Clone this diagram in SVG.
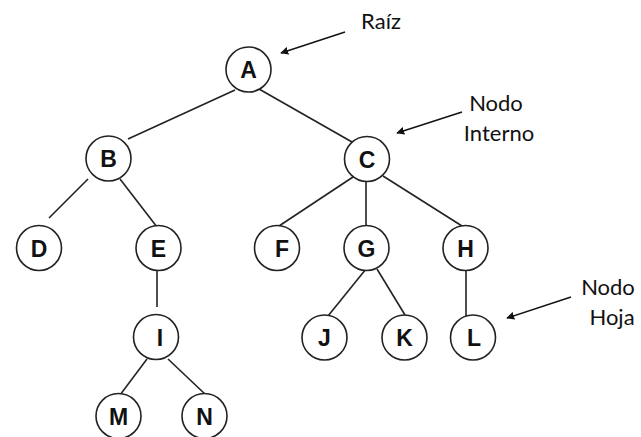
<svg xmlns="http://www.w3.org/2000/svg" width="641" height="437" viewBox="0 0 641 437">
<defs>
<style>
.n circle{fill:#fff;stroke:#222;stroke-width:1.6}
.n text{font-family:"Liberation Sans",Arial,sans-serif;font-weight:bold;font-size:23px;text-anchor:middle;fill:#111}
#edges line{stroke:#222;stroke-width:1.6}
.lbl{font-family:Lato,"Open Sans",sans-serif;font-size:22px;fill:#111;text-anchor:middle}
.arr{stroke:#111;stroke-width:1.4;marker-end:url(#ah)}
</style>
<marker id="ah" viewBox="0 0 10 10" refX="9" refY="5" markerWidth="8" markerHeight="8" markerUnits="userSpaceOnUse" orient="auto">
<path d="M0,0 L10,5 L0,10 z" fill="#111"/>
</marker>
</defs>
<rect width="641" height="437" fill="#fff"/>
<g id="edges">
<line x1="235" y1="90" x2="128" y2="139"/>
<line x1="259" y1="89" x2="352" y2="142"/>
<line x1="88" y1="179" x2="49" y2="218"/>
<line x1="120" y1="179" x2="157" y2="227"/>
<line x1="157" y1="271" x2="157" y2="307"/>
<line x1="353" y1="177" x2="279" y2="226"/>
<line x1="366" y1="181" x2="366" y2="226"/>
<line x1="383" y1="176" x2="462" y2="226"/>
<line x1="366" y1="269" x2="328" y2="316"/>
<line x1="377" y1="269" x2="405" y2="315"/>
<line x1="466" y1="268" x2="466" y2="316"/>
<line x1="147" y1="359" x2="120" y2="395"/>
<line x1="168" y1="359" x2="206" y2="395"/>
</g>
<g id="arrows">
<line class="arr" x1="345" y1="32" x2="281" y2="53"/>
<line class="arr" x1="462" y1="112" x2="397" y2="133"/>
<line class="arr" x1="571" y1="297" x2="507" y2="318"/>
</g>
<g id="labels">
<text class="lbl" x="381" y="29">Raíz</text>
<text class="lbl" x="496" y="111">Nodo</text>
<text class="lbl" x="499" y="141">Interno</text>
<text class="lbl" x="608" y="295">Nodo</text>
<text class="lbl" x="612" y="325">Hoja</text>
</g>
<g id="A" class="n"><circle cx="248.5" cy="69.5" r="22.5"/><text x="248.5" y="78">A</text></g>
<g id="B" class="n"><circle cx="108.5" cy="158.5" r="22.5"/><text x="108.5" y="167">B</text></g>
<g id="C" class="n"><circle cx="367" cy="159" r="22.5"/><text x="367" y="167.5">C</text></g>
<g id="D" class="n"><circle cx="39" cy="248" r="22.5"/><text x="39" y="256.5">D</text></g>
<g id="E" class="n"><circle cx="158.5" cy="248" r="22.5"/><text x="158.5" y="256.5">E</text></g>
<g id="F" class="n"><circle cx="277" cy="248" r="22.5"/><text x="282" y="256.5">F</text></g>
<g id="G" class="n"><circle cx="366.5" cy="248" r="22.5"/><text x="366.5" y="256.5">G</text></g>
<g id="H" class="n"><circle cx="465.5" cy="248" r="22.5"/><text x="465.5" y="256.5">H</text></g>
<g id="I" class="n"><circle cx="156" cy="337" r="22.5"/><text x="160" y="345.5">I</text></g>
<g id="J" class="n"><circle cx="324.5" cy="337.5" r="22.5"/><text x="324.5" y="346">J</text></g>
<g id="K" class="n"><circle cx="404.5" cy="337.5" r="22.5"/><text x="404.5" y="346">K</text></g>
<g id="L" class="n"><circle cx="473" cy="337.5" r="22.5"/><text x="474" y="346">L</text></g>
<g id="M" class="n"><circle cx="118.5" cy="416" r="22.5"/><text x="118.5" y="424.5">M</text></g>
<g id="N" class="n"><circle cx="204.5" cy="416" r="22.5"/><text x="204.5" y="424.5">N</text></g>
</svg>
